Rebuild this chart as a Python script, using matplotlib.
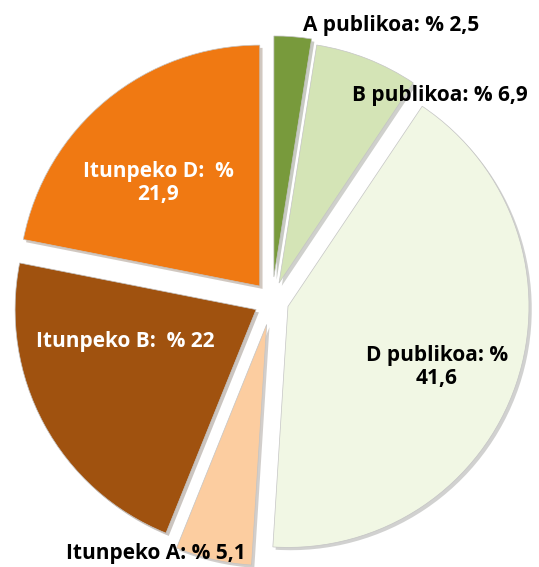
import matplotlib.pyplot as plt
from matplotlib import patheffects as pe

# datuak
labels = ['A publikoa: % 2,5', 'B publikoa: % 6,9', 'D publikoa: %\n41,6',
          'Itunpeko A: % 5,1', 'Itunpeko B:  % 22', 'Itunpeko D:  %\n21,9']
values = [2.5, 6.9, 41.6, 5.1, 22, 21.9]

colors = ['#789A3C', '#D4E4B6', '#F1F7E4', '#FCCDA0', '#A0520F', '#F07912']
text_colors = ['black', 'black', 'black', 'black', 'white', 'white']
explode = [0.10, 0.08, 0.07, 0.10, 0.075, 0.08]

W, H = 539, 567
cx, cy, R = 272, 301, 241  # pie centre and radius in pixels (from top)

# label centres in pixels (from top), with alignment
label_px = [(303, 26, 'left'), (352, 96, 'left'), (437, 367, 'center'),
            (66, 553, 'left'), (125, 341, 'center'), (158, 183, 'center')]


def px_to_data(x, y):
    return (x - cx) / R, (H - y - (H - cy)) / R


fig = plt.figure(figsize=(W / 100, H / 100), dpi=100)
ax = fig.add_axes([0, 0, 1, 1])

wedges, _ = ax.pie(values, colors=colors, explode=explode, startangle=90,
                   counterclock=False, radius=1,
                   wedgeprops=dict(edgecolor='#c4c4c4', linewidth=0.5))
for w in wedges:
    w.set_path_effects([pe.SimplePatchShadow(offset=(2, -2), alpha=0.25),
                        pe.Normal()])

for lab, (x, y, ha), tc in zip(labels, label_px, text_colors):
    dx, dy = px_to_data(x, y)
    ax.text(dx, dy, lab, ha=ha, va='center', color=tc, fontsize=15,
            fontweight='bold', family='Open Sans', linespacing=1.1)

ax.set_xlim(-cx / R, (W - cx) / R)
ax.set_ylim(-(H - cy) / R, cy / R)
ax.set_aspect('equal', adjustable='box')
ax.axis('off')

fig.savefig('out.png', dpi=100)
